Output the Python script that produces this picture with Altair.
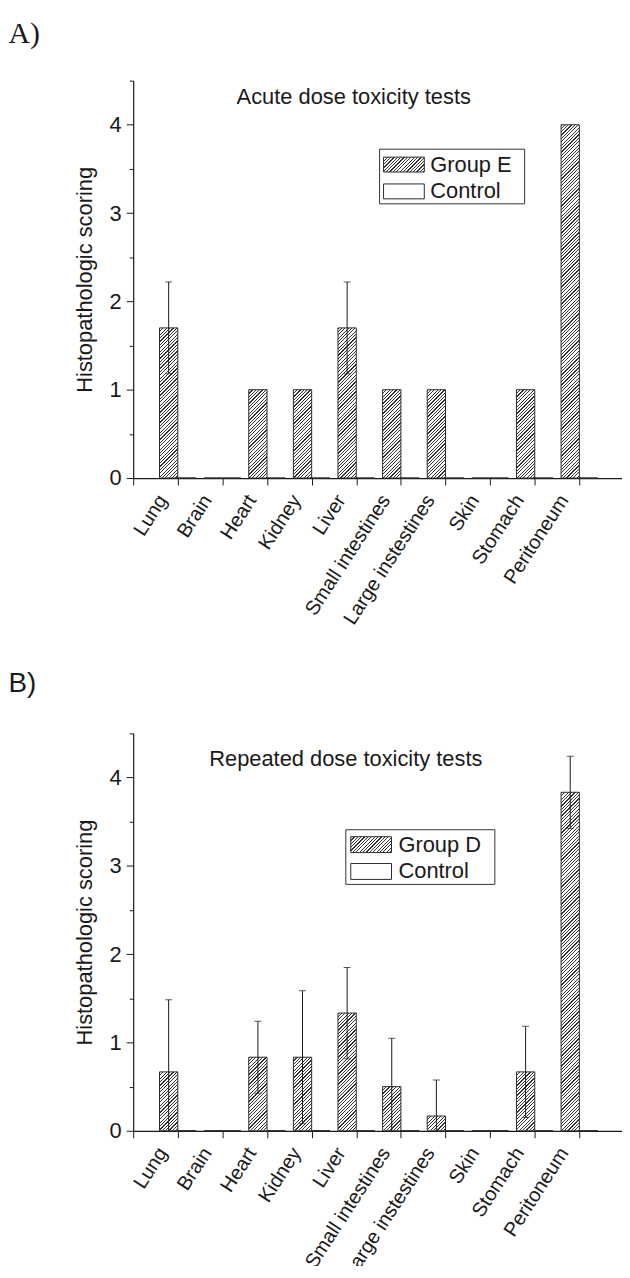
import json
import altair as alt
import pandas as pd

# ---------------- data ----------------
categories = ["Lung", "Brain", "Heart", "Kidney", "Liver", "Small intestines",
              "Large instestines", "Skin", "Stomach", "Peritoneum"]
positions = [1, 2, 3, 4, 5, 6, 7, 8, 9, 10]

acute_group_e = [1.7, 0, 1, 1, 1.7, 1, 1, 0, 1, 4]
acute_group_e_err = [0.52, 0, 0, 0, 0.52, 0, 0, 0, 0, 0]
acute_control = [0, 0, 0, 0, 0, 0, 0, 0, 0, 0]

repeated_group_d = [0.667, 0, 0.833, 0.833, 1.333, 0.5, 0.167, 0, 0.667, 3.833]
repeated_group_d_err = [0.816, 0, 0.408, 0.753, 0.516, 0.548, 0.408, 0, 0.516, 0.408]
repeated_control = [0, 0, 0, 0, 0, 0, 0, 0, 0, 0]

y_ticks = [0, 0.5, 1, 1.5, 2, 2.5, 3, 3.5, 4, 4.5]
x_ticks = [0, 1, 2, 3, 4, 5, 6, 7, 8, 9, 10, 11]

# ---------------- layout / style ----------------
W_PLOT = 494
H_PLOT = 400
X_MAX = 11
Y_MAX = 4.5
BAR_W = 0.41
FONT = "Liberation Sans"
INK = "#1a1a1a"
PX_X = W_PLOT / X_MAX
PX_Y = H_PLOT / Y_MAX


def hatch(w, h, period=3.4, line=1.2, dark="#333333", light="#ffffff"):
    """Diagonal '////' hatch as a linear gradient in bounding-box units."""
    h = max(h, 0.01)
    total = w + h
    c = total / (w * w + h * h)
    stops = []
    k = 0.0
    while k < total:
        t0 = k / total
        t1 = min((k + line) / total, 1.0)
        t2 = min((k + period) / total, 1.0)
        stops += [
            {"offset": round(t0, 5), "color": dark},
            {"offset": round(t1, 5), "color": dark},
            {"offset": round(t1, 5), "color": light},
            {"offset": round(t2, 5), "color": light},
        ]
        k += period
    return {"gradient": "linear", "x1": 0, "y1": 0,
            "x2": float(w * c), "y2": float(h * c), "stops": stops}


label_array = json.dumps([""] + categories + [""])

x_scale = alt.Scale(domain=[0, X_MAX], nice=False, zero=False)
y_scale = alt.Scale(domain=[0, Y_MAX], nice=False, zero=False)

x_axis = alt.Axis(
    values=x_ticks, labelExpr=f"{label_array}[datum.value]", title=None,
    labelAngle=-57, labelAlign="right", labelBaseline="top", labelPadding=6,
    labelOffset=-24, labelFont=FONT, labelColor=INK,
    labelFontSize={"condition": {"test": "datum.value < 1 || datum.value > 10", "value": 0},
                   "value": 20},
    tickSize=7, tickColor=INK, tickWidth=1, domainColor=INK, domainWidth=1.2,
    grid=False, labelOverlap=False, labelBound=False, labelFlush=False,
)
y_axis = alt.Axis(
    values=y_ticks, labelExpr="datum.value % 1 ? '' : datum.value",
    title="Histopathologic scoring", titleFont=FONT, titleFontSize=22,
    titleFontWeight="normal", titleColor=INK, titlePadding=13,
    labelFont=FONT, labelFontSize=22, labelColor=INK, labelPadding=5,
    tickSize={"condition": {"test": "datum.value % 1 === 0", "value": 7}, "value": 4},
    tickColor=INK, tickWidth=1, domainColor=INK, domainWidth=1.2,
    grid=False, labelOverlap=False,
)


def X(field):
    return alt.X(field, type="quantitative", scale=x_scale, axis=x_axis)


def Y(field):
    return alt.Y(field, type="quantitative", scale=y_scale, axis=y_axis)


def panel(values, errs, control, series_name, title_text, tag, tag_font, tag_y,
          title_x, title_y, legend):
    rows = []
    for cat, pos, v, e, cv in zip(categories, positions, values, errs, control):
        rows.append({
            "cat": cat, "pos": pos, "val": v, "err": e, "ctrl": cv,
            "x0": pos - BAR_W, "x1": pos, "x2c": pos + BAR_W, "xc": pos - BAR_W / 2,
            "zero": 0.0, "lo": v - e, "hi": v + e,
            "hatch": hatch(BAR_W * PX_X, v * PX_Y),
        })
    df = pd.DataFrame(rows)
    base = alt.Chart(df)

    bars = base.mark_bar(stroke="#2a2a2a", strokeWidth=1).encode(
        x=X("x0"), x2="x1", y=Y("val"), y2="zero",
        fill=alt.Fill("hatch:N", scale=None, legend=None),
    )
    ctrl = base.mark_bar(stroke="#2a2a2a", strokeWidth=1, fill="white").encode(
        x=X("x1"), x2="x2c", y=Y("ctrl"), y2="zero",
    )
    eb = base.transform_filter("datum.err > 0")
    err_rule = eb.mark_rule(color=INK, strokeWidth=1, clip=True).encode(
        x=X("xc"), y=Y("lo"), y2="hi",
    )
    cap_hi = eb.mark_tick(color=INK, orient="horizontal", size=7, thickness=1, clip=True).encode(
        x=X("xc"), y=Y("hi"),
    )
    cap_lo = eb.mark_tick(color=INK, orient="horizontal", size=7, thickness=1, clip=True).encode(
        x=X("xc"), y=Y("lo"),
    )

    one = alt.Chart(pd.DataFrame({"k": [0]}))
    title = one.mark_text(font=FONT, fontSize=22, color=INK, align="center",
                          baseline="alphabetic").encode(
        x=alt.value(title_x), y=alt.value(title_y), text=alt.value(title_text))
    tag_mark = one.mark_text(font=tag_font, fontSize=28 if tag_font == FONT else 30,
                             color=INK, align="left", baseline="alphabetic").encode(
        x=alt.value(-125.5), y=alt.value(tag_y), text=alt.value(tag))

    bx0, by0, bx1, by1, sx, sw, sy1, sy2, sh, tx = legend
    box = one.mark_rect(fill="white", stroke="#333333", strokeWidth=1).encode(
        x=alt.value(bx0), x2=alt.value(bx1), y=alt.value(by0), y2=alt.value(by1))
    sw1 = one.mark_rect(fill=hatch(sw, sh), stroke="#2a2a2a", strokeWidth=1).encode(
        x=alt.value(sx), x2=alt.value(sx + sw), y=alt.value(sy1), y2=alt.value(sy1 + sh))
    sw2 = one.mark_rect(fill="white", stroke="#2a2a2a", strokeWidth=1).encode(
        x=alt.value(sx), x2=alt.value(sx + sw), y=alt.value(sy2), y2=alt.value(sy2 + sh))
    lt1 = one.mark_text(font=FONT, fontSize=22, color=INK, align="left",
                        baseline="middle").encode(
        x=alt.value(tx), y=alt.value(sy1 + sh / 2), text=alt.value(series_name))
    lt2 = one.mark_text(font=FONT, fontSize=22, color=INK, align="left",
                        baseline="middle").encode(
        x=alt.value(tx), y=alt.value(sy2 + sh / 2), text=alt.value("Control"))

    return alt.layer(bars, ctrl, err_rule, cap_hi, cap_lo, title, box, sw1, sw2,
                     lt1, lt2, tag_mark).properties(width=W_PLOT, height=H_PLOT)


panel_a = panel(acute_group_e, acute_group_e_err, acute_control, "Group E",
                "Acute dose toxicity tests", "A)", "Liberation Serif", -38,
                222, 24,
                (248, 69, 394, 124, 252, 41, 77, 104, 15, 299))
panel_b = panel(repeated_group_d, repeated_group_d_err, repeated_control, "Group D",
                "Repeated dose toxicity tests", "B)", FONT, -42,
                214, 33,
                (214, 97, 364, 152, 219, 41, 104, 131, 16, 267))

chart = alt.vconcat(panel_a, panel_b, spacing=42).properties(
    padding={"left": 0, "top": 7, "right": -3, "bottom": -19}
).configure_view(stroke=None)

chart.save("out.html", embed_options={"renderer": "svg", "actions": False})
